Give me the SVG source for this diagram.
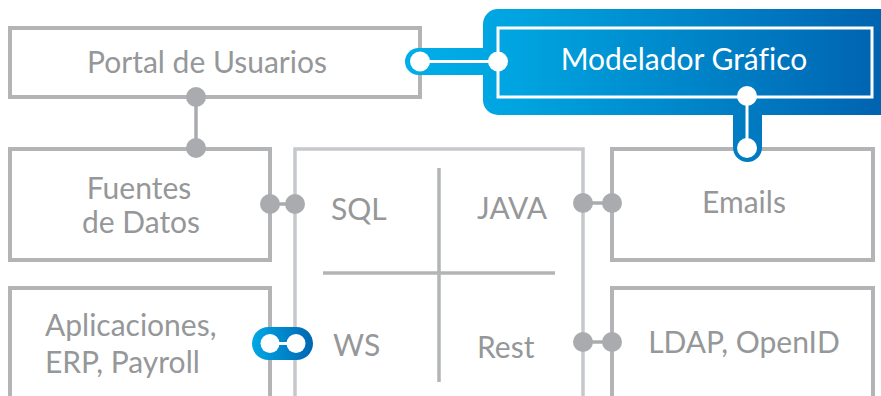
<svg xmlns="http://www.w3.org/2000/svg" width="881" height="396" viewBox="0 0 881 396">
  <style>
    .box { fill: #ffffff; stroke: #b3b4b6; stroke-width: 4; }
    .open { fill: none; stroke: #b3b4b6; stroke-width: 4; }
    .inner { fill: none; stroke: #c6c8cb; stroke-width: 3.5; }
    .div { stroke: #b3b4b6; stroke-width: 3.5; }
    .lbl { font-family: Lato, "Open Sans", sans-serif; font-size: 30px; fill: #959799; font-variant-ligatures: none; }
    .mid { text-anchor: middle; }
    .wlbl { font-family: Lato, "Open Sans", sans-serif; font-size: 30px; fill: #ffffff; text-anchor: middle; font-variant-ligatures: none; }
    .gdot { fill: #a9abae; }
    .gline { stroke: #a9abae; stroke-width: 3.5; }
    .wdot { fill: #ffffff; }
    .wline { stroke: #ffffff; stroke-width: 3; }
  </style>
  <defs>
    <linearGradient id="blue" gradientUnits="userSpaceOnUse" x1="405" y1="0" x2="881" y2="0">
      <stop offset="0" stop-color="#00aee9"/>
      <stop offset="0.25" stop-color="#00a3df"/>
      <stop offset="1" stop-color="#0063b0"/>
    </linearGradient>
    <linearGradient id="pill" gradientUnits="userSpaceOnUse" x1="252" y1="0" x2="313" y2="0">
      <stop offset="0" stop-color="#00a8e4"/>
      <stop offset="1" stop-color="#0066b2"/>
    </linearGradient>
  </defs>

  <g id="node-portal">
    <rect class="box" x="10" y="28" width="410" height="69"/>
    <text class="lbl mid" x="207" y="73">Portal de Usuarios</text>
  </g>

  <g id="node-fuentes">
    <rect class="box" x="10" y="149" width="260" height="111"/>
    <text class="lbl mid" x="139" y="199">Fuentes</text>
    <text class="lbl mid" x="141" y="233">de Datos</text>
  </g>

  <g id="node-aplicaciones">
    <path class="open" d="M10,396 V288 H270 V396"/>
    <text class="lbl" x="45" y="336">Aplicaciones,</text>
    <text class="lbl" x="45" y="373">ERP, Payroll</text>
  </g>

  <g id="node-servicios">
    <path class="inner" d="M295,396 V149 H583 V396"/>
    <line class="div" x1="439" y1="168" x2="439" y2="382"/>
    <line class="div" x1="323" y1="273" x2="555" y2="273"/>
    <text class="lbl" x="331" y="220">SQL</text>
    <text class="lbl" x="477" y="219">JAVA</text>
    <text class="lbl" x="333" y="356">WS</text>
    <text class="lbl" x="477" y="358">Rest</text>
  </g>

  <g id="node-emails">
    <rect class="box" x="612" y="149" width="261" height="111"/>
    <text class="lbl mid" x="744" y="213">Emails</text>
  </g>

  <g id="node-ldap">
    <path class="open" d="M612,396 V288 H873 V396"/>
    <text class="lbl mid" x="744" y="353">LDAP, OpenID</text>
  </g>

  <g id="node-modelador">
    <rect x="483" y="9" width="430" height="106" rx="15" fill="url(#blue)"/>
    <rect x="498" y="28" width="374" height="69" fill="none" stroke="#ffffff" stroke-width="3"/>
    <text class="wlbl" x="684" y="70">Modelador Gráfico</text>
  </g>

  <g id="connectors">
    <!-- Portal - Fuentes -->
    <line class="gline" x1="196" y1="97" x2="196" y2="148"/>
    <circle class="gdot" cx="196" cy="97" r="10"/>
    <circle class="gdot" cx="196" cy="148" r="10"/>
    <!-- Fuentes - Servicios -->
    <line class="gline" x1="270" y1="204" x2="295" y2="204"/>
    <circle class="gdot" cx="270" cy="204" r="10"/>
    <circle class="gdot" cx="295" cy="204" r="10"/>
    <!-- Servicios - Emails -->
    <line class="gline" x1="583" y1="203" x2="612" y2="203"/>
    <circle class="gdot" cx="583" cy="203" r="10"/>
    <circle class="gdot" cx="612" cy="203" r="10"/>
    <!-- Servicios - LDAP -->
    <line class="gline" x1="583" y1="342" x2="612" y2="342"/>
    <circle class="gdot" cx="583" cy="342" r="10"/>
    <circle class="gdot" cx="612" cy="342" r="10"/>
    <!-- Aplicaciones - WS (blue) -->
    <rect x="252" y="327" width="61" height="33" rx="16.5" fill="url(#pill)"/>
    <line class="wline" x1="270" y1="343.5" x2="296" y2="343.5"/>
    <circle class="wdot" cx="270" cy="343.5" r="9.5"/>
    <circle class="wdot" cx="296" cy="343.5" r="9.5"/>
    <!-- Portal - Modelador (blue) -->
    <rect x="405" y="48" width="90" height="27" rx="13.5" fill="url(#blue)"/>
    <line class="wline" x1="420" y1="61.5" x2="498" y2="61.5"/>
    <circle class="wdot" cx="420" cy="61.5" r="10"/>
    <circle class="wdot" cx="498" cy="61.5" r="10"/>
    <!-- Modelador - Emails (blue) -->
    <rect x="733" y="100" width="29" height="62" rx="14.5" fill="url(#blue)"/>
    <line class="wline" x1="747" y1="96" x2="747" y2="148"/>
    <circle class="wdot" cx="747" cy="96" r="10"/>
    <circle class="wdot" cx="747" cy="148" r="10"/>
  </g>
</svg>
